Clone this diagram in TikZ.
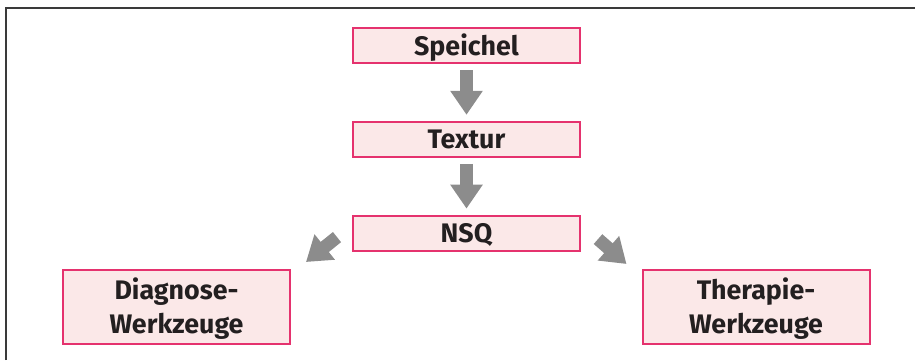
\documentclass[tikz,border=0pt]{standalone}
\usepackage{fontspec}
\setmainfont{Fira Sans}
\usetikzlibrary{arrows.meta, positioning, calc}

\definecolor{boxrand}{RGB}{229,50,110}
\definecolor{boxfill}{RGB}{251,232,232}
\definecolor{pfeilgrau}{RGB}{140,140,140}
\definecolor{schrift}{RGB}{35,31,32}
\definecolor{rahmengrau}{RGB}{58,58,58}

\tikzset{
    kasten/.style={draw=boxrand, fill=boxfill, line width=1pt, minimum width=113.5pt,
        minimum height=17.5pt, inner sep=0pt, text height=9.5pt, text depth=0pt,
        font=\bfseries\fontsize{13.4}{17}\selectfont, text=schrift, align=center},
    kasten2/.style={kasten, minimum height=37pt, text height=26.5pt},
    pfeil/.style={draw=pfeilgrau, line width=6.5pt, -{Triangle[width=15.5pt,length=12pt]}},
    rahmen/.style={draw=rahmengrau, line width=1.2pt}
}

\begin{document}
\begin{tikzpicture}[x=0.5pt, y=0.5pt, node distance=28.4pt]
    \useasboundingbox (0,0) rectangle (915,360);
    \draw[rahmen] (6,0) -- (6,352) -- (915,352);

    \node[kasten] (speichel) at (466.5,314.5) {Speichel};
    \node[kasten, below=of speichel] (textur) {Textur};
    \node[kasten, below=of textur] (nsq) {NSQ};

    \node[kasten2] (diagnose) at (176.5,53) {Diagnose-\\Werkzeuge};
    \node[kasten2] (therapie) at (756,53) {Therapie-\\Werkzeuge};

    \draw[pfeil, shorten <=3pt, shorten >=3pt] (speichel) -- (textur);
    \draw[pfeil, shorten <=3pt, shorten >=3pt] (textur) -- (nsq);

    % schraege Pfeile zu den Werkzeugen
    \draw[pfeil] ($(nsq.west)+(-15,-4)$) -- ($(diagnose.north east)+(15,7)$);
    \draw[pfeil] ($(nsq.east)+(17,-6)$) -- ($(therapie.north west)+(-15,5)$);

\end{tikzpicture}
\end{document}
